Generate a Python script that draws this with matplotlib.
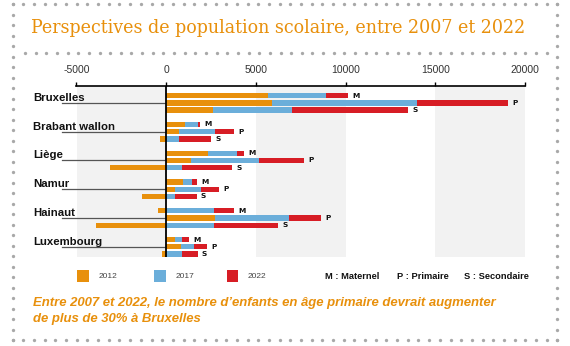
import numpy as np
import matplotlib
matplotlib.use('Agg')
import matplotlib.pyplot as plt
from matplotlib import font_manager
from matplotlib.lines import Line2D
from matplotlib.patches import Rectangle
from matplotlib.transforms import blended_transform_factory

# change in school population compared with 2007
regions = ['Bruxelles', 'Brabant wallon', 'Liège', 'Namur', 'Hainaut', 'Luxembourg']
levels = ['M', 'P', 'S']
years = ['2012', '2017', '2022']
v2012 = [[5690, 5915, 2600], [1060, 690, -355], [2320, 1410, -3160],
         [930, 500, -1360], [-470, 2695, -3905], [480, 815, -260]]
v2017 = [[8890, 13985, 7010], [1750, 2700, 705], [3960, 5150, 855],
         [1430, 1915, 480], [2680, 6825, 2640], [890, 1560, 870]]
v2022 = [[10140, 19030, 13505], [1875, 3790, 2490], [4330, 7680, 3660],
         [1710, 2920, 1690], [3755, 8610, 6230], [1245, 2250, 1745]]
xticks = [-5000, 0, 5000, 10000, 15000, 20000]
level_names = ['M : Maternel', 'P : Primaire', 'S : Secondaire']

ORANGE = '#E8900C'
BLUE = '#6BAEDA'
RED = '#D71D25'
colors = [ORANGE, BLUE, RED]

names = {f.name for f in font_manager.fontManager.ttflist}


def pick(*cands):
    for c in cands:
        if c in names:
            return c
    return 'DejaVu Sans'


narrow = pick('Liberation Sans Narrow', 'DejaVu Sans Condensed', 'Liberation Sans')
slab = pick('DejaVu Serif Condensed', 'DejaVu Serif')
light = pick('Liberation Sans', 'DejaVu Sans')

W, H = 570, 346
fig = plt.figure(figsize=(W / 100, H / 100), dpi=100)


def fx(x):
    return x / W


def fy(y):
    return 1 - y / H


ax = fig.add_axes([fx(76.5), fy(257), (525 - 76.5) / W, (257 - 86) / H])

pos = np.array([4 * i + j for i in range(len(regions)) for j in range(3)])

for x0 in (-5000, 5000, 15000):
    ax.axvspan(x0, x0 + 5000, color='#F2F2F2', lw=0, zorder=0)

# later years drawn first so earlier ones sit on top
for z, (vals, col) in enumerate(zip([v2022, v2017, v2012], [RED, BLUE, ORANGE])):
    ax.barh(pos, np.ravel(vals), height=0.74, color=col, lw=0, zorder=2 + z)

for p, lvl, end in zip(pos, levels * len(regions), np.ravel(v2022)):
    ax.annotate(lvl, xy=(end, p), xytext=(3.2, 0), textcoords='offset points',
                ha='left', va='center', fontsize=5.3, fontweight='bold',
                family='DejaVu Sans', color='#111')

ax.axvline(0, color='black', lw=1.3, zorder=6)
ax.set_xlim(-5000, 20000)
ax.set_ylim(22.42, -1.35)
ax.xaxis.tick_top()
ax.set_xticks(xticks)
ax.set_xticklabels([str(t) for t in xticks], family=light, color='#333')
ax.tick_params(axis='x', direction='out', length=3, width=1, pad=5, labelsize=7.5)
ax.set_yticks([])
for s in ('left', 'right', 'bottom'):
    ax.spines[s].set_visible(False)
ax.spines['top'].set_linewidth(1.2)

# region names with a leader line at the middle bar
trans = blended_transform_factory(fig.transFigure, ax.transData)
region_texts = []
for i, name in enumerate(regions):
    t = ax.text(fx(33), 4 * i + 0.72, name, transform=trans, ha='left',
                va='baseline', fontsize=9, fontweight='bold', family=narrow,
                color='#111')
    region_texts.append(t)
    ax.plot([-5800, 0], [4 * i + 1] * 2, color='#555', lw=0.9,
            clip_on=False, zorder=1)

# legend
year_texts = []
for k, (yr, col) in enumerate(zip(years, colors)):
    x0 = [77.3, 154.3, 226.7][k]
    fig.add_artist(Rectangle((fx(x0), fy(281.5)), 11.3 / W, 11.3 / H,
                             transform=fig.transFigure, color=col, lw=0))
    year_texts.append(fig.text(fx(x0 + 21), fy(276.7), yr, ha='left', va='center',
                               fontsize=7, family=light, color='#444'))
level_texts = []
for k, lab in enumerate(level_names):
    level_texts.append(fig.text(fx([325, 397.3, 464][k]), fy(276.7), lab,
                                ha='left', va='center', fontsize=7,
                                fontweight='bold', family=narrow, color='#111'))

title = fig.text(fx(30.7), fy(28.3), 'Perspectives de population scolaire, entre 2007 et 2022',
                 ha='left', va='center', fontsize=13, family=slab,
                 fontstretch='condensed', color=ORANGE)
sub1 = fig.text(fx(33.3), fy(302.7),
                "Entre 2007 et 2022, le nombre d\u2019enfants en âge primaire devrait augmenter",
                ha='left', va='center', fontsize=9, fontweight='bold',
                style='italic', family=narrow, color=ORANGE)
sub2 = fig.text(fx(33.3), fy(319.3), 'de plus de 30% à Bruxelles',
                ha='left', va='center', fontsize=9, fontweight='bold',
                style='italic', family=narrow, color=ORANGE)

# dotted frame
dot = dict(marker='o', ls='none', ms=2.4, mew=0, color='#A8A8A8',
           transform=fig.transFigure)
xs = np.linspace(12.7, 557.3, 52)
ys = np.linspace(4.3, 340, 33)
for yy in (4.3, 340):
    fig.add_artist(Line2D(fx(xs), fy(np.full_like(xs, yy)), **dot))
for xx in (12.7, 557.3):
    fig.add_artist(Line2D(fx(np.full_like(ys, xx)), fy(ys), **dot))
xs2 = np.linspace(25, 546.7, 50)
fig.add_artist(Line2D(fx(xs2), fy(np.full_like(xs2, 52.7)), **dot))

# size the text blocks to their widths
fig.canvas.draw()
r = fig.canvas.get_renderer()


def fit(t, width):
    w = t.get_window_extent(r).width
    return t.get_fontsize() * width / w


s = fit(title, 493)
title.set_fontsize(s)
s = fit(sub1, 468)
sub1.set_fontsize(s)
sub2.set_fontsize(s)
s = fit(region_texts[1], 82)
for t in region_texts:
    t.set_fontsize(s)
s = fit(level_texts[0], 54.3)
for t in level_texts:
    t.set_fontsize(s)
s = fit(year_texts[0], 18.4)
for t in year_texts:
    t.set_fontsize(s)

fig.savefig('out.png', dpi=100)
